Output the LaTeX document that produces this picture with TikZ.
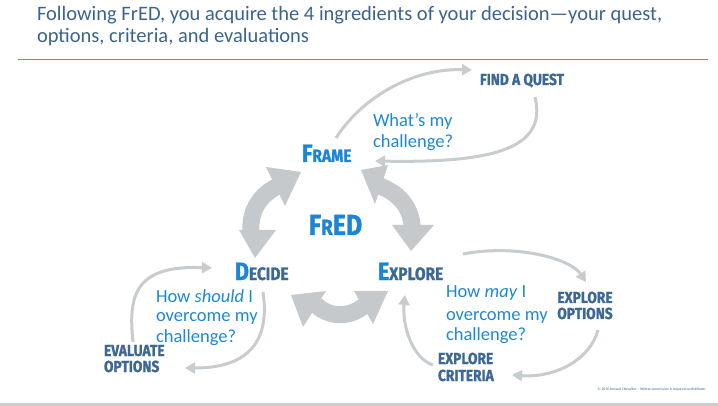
\documentclass[tikz,border=0pt]{standalone}
\usepackage{fontspec}
\setmainfont{Carlito}
\newfontfamily\comic{Fira Sans}[FakeStretch=0.86, BoldFeatures={FakeBold=1.2}]
\usetikzlibrary{arrows.meta}
\definecolor{titleblue}{RGB}{58,100,143}
\definecolor{qblue}{RGB}{30,136,212}
\definecolor{cdark}{RGB}{61,104,147}
\definecolor{cbright}{RGB}{27,134,212}
\definecolor{agrey}{RGB}{200,204,206}
\definecolor{biggrey}{RGB}{197,201,203}
\definecolor{rulec}{RGB}{110,140,170}
\newcommand\capbigx[1]{{\fontsize{25}{25}\selectfont #1}}
\newcommand\capsmallx[1]{{\fontsize{18}{18}\selectfont #1}}
\tikzset{
  txt/.style={inner sep=0pt, outer sep=0pt, anchor=base west},
  titletxt/.style={txt, text=titleblue, font=\fontsize{20.5}{22}\selectfont},
  qtxt/.style={txt, text=qblue, font=\fontsize{18.5}{21}\selectfont},
  lbl/.style={txt, text=cdark, font=\comic\bfseries\fontsize{16}{16}\selectfont},
  mainlbl/.style={txt, font=\comic\bfseries},
  flowarr/.style={draw=agrey, line width=3pt, -{Triangle[width=11pt,length=10pt]}},
  bigband/.style={draw=biggrey, line width=17pt, line cap=butt},
  bighead/.style={fill=biggrey}
}
\begin{document}
\begin{tikzpicture}[x=1pt,y=-1pt]
\useasboundingbox (0,0) rectangle (718,406);
% title
\node[titletxt] (t1) at (37,21) {Following FrED, you acquire the 4 ingredients of your decision—your quest,};
\node[titletxt] (t2) at (37,43) {options, criteria, and evaluations};
\draw[rulec, line width=1pt] (18,60) -- (708,60);
% main labels
\node[mainlbl, text=cbright] (frame) at (302,162) {\capbigx{F}\capsmallx{RAME}};
\node[mainlbl, text=cbright] (fred) at (309,235) {{\fontsize{29}{29}\selectfont F}{\fontsize{22}{22}\selectfont R}{\fontsize{29}{29}\selectfont ED}};
\node[mainlbl] (decide) at (235,280) {\textcolor{cbright}{\capbigx{D}}\textcolor{cdark}{\capsmallx{ECIDE}}};
\node[mainlbl] (explore) at (378,280) {\textcolor{cbright}{\capbigx{E}}\textcolor{cdark}{\capsmallx{XPLORE}}};
% small labels
\node[lbl] (quest) at (480,85) {FIND A QUEST};
\node[lbl, anchor=base] (eo1) at (585,303) {EXPLORE};
\node[lbl, anchor=base] (eo2) at (585,319) {OPTIONS};
\node[lbl] (ec1) at (438,364) {EXPLORE};
\node[lbl] (ec2) at (438,381) {CRITERIA};
\node[lbl] (ev1) at (104,356) {EVALUATE};
\node[lbl] (ev2) at (104,372) {OPTIONS};
% questions
\node[qtxt] (q1a) at (373,127) {What’s my};
\node[qtxt] (q1b) at (373,148) {challenge?};
\node[qtxt] (q2a) at (156,302) {How \textit{should} I};
\node[qtxt] (q2b) at (156,322) {overcome my};
\node[qtxt] (q2c) at (156,342) {challenge?};
\node[qtxt] (q3a) at (446,298) {How \textit{may} I};
\node[qtxt] (q3b) at (446,320) {overcome my};
\node[qtxt] (q3c) at (446,340) {challenge?};
% big double arrows (Frame-Decide, Frame-Explore, Decide-Explore)
\draw[bigband] (251,236) .. controls (249,212) and (258,196) .. (278,186);
\fill[bighead] (266,167) -- (285,206) -- (301,172) -- cycle;
\fill[bighead] (239,230) -- (276,230) -- (255,258) -- cycle;
\draw[bigband] (380,186) .. controls (400,194) and (412,208) .. (412.5,231);
\fill[bighead] (388,165) -- (375,204) -- (361,170) -- cycle;
\fill[bighead] (392,225) -- (434,225) -- (411,251) -- cycle;
\draw[bigband] (316,305) .. controls (330,318) and (350,318) .. (365,305);
\fill[bighead] (326,291) -- (303,327) -- (291,295) -- cycle;
\fill[bighead] (354,291) -- (373,324) -- (388,291) -- cycle;
% flow arrows
\coordinate (a1s) at (336,138); \coordinate (a1e) at (472,70);
\coordinate (a2s) at (535,97);  \coordinate (a2e) at (375,161);
\coordinate (a3s) at (463,254); \coordinate (a3e) at (586,282);
\coordinate (a4s) at (598,330); \coordinate (a4e) at (512,375);
\coordinate (a5s) at (433,365); \coordinate (a5e) at (405,295);
\coordinate (a6s) at (133,342); \coordinate (a6e) at (212,268);
\coordinate (a7s) at (263,292); \coordinate (a7e) at (185,368);
\draw[flowarr] (a1s) .. controls (360,100) and (410,68) .. (a1e);
\draw[flowarr] (a2s) .. controls (548,150) and (490,163) .. (a2e);
\draw[flowarr] (a3s) .. controls (515,244) and (570,258) .. (a3e);
\draw[flowarr] (a4s) .. controls (590,360) and (555,378) .. (a4e);
\draw[flowarr] (a5s) .. controls (412,358) and (402,325) .. (a5e);
\draw[flowarr] (a6s) .. controls (128,295) and (135,265) .. (a6e);
\draw[flowarr] (a7s) .. controls (270,340) and (250,368) .. (a7e);
% footer
\node[txt, anchor=base east, text=titleblue, font=\fontsize{3.7}{4}\selectfont] (foot) at (706,390) {© 2016 Arnaud Chevallier – Written permission is required to distribute.};
\fill[gray!40] (0,402.5) rectangle (718,406);
\end{tikzpicture}
\end{document}
